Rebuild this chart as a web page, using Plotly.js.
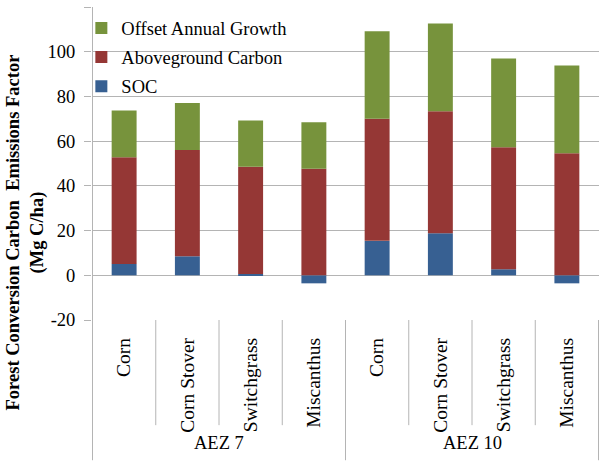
<!DOCTYPE html>
<html>
<head>
<meta charset="utf-8">
<script src="https://cdn.plot.ly/plotly-3.0.1.min.js"></script>
<style>
  html, body { margin: 0; padding: 0; background: #fff; }
  #plot { width: 600px; height: 461px; }
</style>
</head>
<body>
<div id="plot"></div>
<script>
// Categories (two levels) and the three stacked series
let zones = ["AEZ 7", "AEZ 7", "AEZ 7", "AEZ 7", "AEZ 10", "AEZ 10", "AEZ 10", "AEZ 10"];
let crops = ["Corn", "Corn Stover", "Switchgrass", "Miscanthus", "Corn", "Corn Stover", "Switchgrass", "Miscanthus"];
let soc = [5.1, 8.5, 0.6, -3.6, 15.4, 18.8, 2.7, -3.6];
let aboveground = [47.7, 47.5, 47.9, 47.6, 54.6, 54.6, 54.6, 54.6];
let offsetGrowth = [20.9, 21.1, 20.7, 20.9, 39.2, 39.2, 39.7, 39.2];
let yTicks = [-20, 0, 20, 40, 60, 80, 100, 120];

// unique keys so repeated crop names get their own slot
let keys = crops.map((c, i) => zones[i] + " " + c);
let groups = [...new Set(zones)];

let font = "Liberation Serif";
let gray = "#b4b4b4";

let trace1 = {
    x: keys, y: soc, name: "SOC", type: "bar",
    legendgroup: "a", legendrank: 3, marker: {color: "#376092"}
}
let trace2 = {
    x: keys, y: aboveground, name: "Aboveground Carbon", type: "bar",
    legendgroup: "b", legendrank: 2, marker: {color: "#953735"}
}
let trace3 = {
    x: keys, y: offsetGrowth, name: "Offset Annual Growth", type: "bar",
    legendgroup: "c", legendrank: 1, marker: {color: "#77933C"}
}

// divider lines in the category label area
let shapes = [];
let lineStyle = {color: gray, width: 1};
shapes.push({type: "line", xref: "x", yref: "paper", x0: -0.5, x1: -0.5, y0: 1, y1: -0.448, line: lineStyle});
for (let k = 0; k < keys.length; k++) {
    let groupEnd = (k === keys.length - 1) || zones[k] !== zones[k + 1];
    shapes.push({
        type: "line", xref: "x", yref: "paper",
        x0: k + 0.5, x1: k + 0.5, y0: 0, y1: groupEnd ? -0.448 : -0.336,
        line: lineStyle
    });
}

// group labels centered under their crops
let annotations = groups.map(g => {
    let idx = zones.map((z, i) => z === g ? i : -1).filter(i => i >= 0);
    return {
        text: g, xref: "x", yref: "paper",
        x: (idx[0] + idx[idx.length - 1]) / 2, y: -0.393,
        showarrow: false, yanchor: "middle",
        font: {family: font, size: 18.5, color: "#000"}
    };
});
annotations.push({
    text: "<b>Forest Conversion Carbon  Emissions Factor<br>(Mg C/ha)</b>",
    xref: "paper", yref: "paper", x: -0.132, y: 0.28,
    xanchor: "center", yanchor: "middle", textangle: -90,
    showarrow: false, font: {family: font, size: 18.5, color: "#000"}
});

let layout = {
    barmode: "relative",
    bargap: 0.606,
    width: 600, height: 461,
    margin: {l: 92, r: 1, t: 7, b: 141},
    paper_bgcolor: "#fff", plot_bgcolor: "#fff",
    font: {family: font, size: 18, color: "#000"},
    showlegend: true,
    legend: {
        x: -0.021, y: 0.992, xanchor: "left", yanchor: "top",
        traceorder: "grouped", tracegroupgap: 2,
        bgcolor: "rgba(0,0,0,0)",
        font: {family: font, size: 18.5, color: "#000"}
    },
    xaxis: {
        type: "category",
        tickvals: keys, ticktext: crops,
        tickangle: -90, ticks: "", showgrid: false, showline: false,
        zeroline: false, ticklabelstandoff: 13,
        tickfont: {family: font, size: 19.5, color: "#000"}
    },
    yaxis: {
        range: [-20, 120],
        tickvals: yTicks, ticktext: yTicks.map(String),
        showgrid: true, gridcolor: gray, gridwidth: 1,
        zeroline: true, zerolinecolor: gray, zerolinewidth: 1,
        showline: false, ticks: "outside", ticklen: 7, tickcolor: gray,
        ticklabelstandoff: 5,
        tickfont: {family: font, size: 18.5, color: "#000"}
    },
    shapes: shapes,
    annotations: annotations
}

Plotly.newPlot("plot", [trace1, trace2, trace3], layout, {displayModeBar: false});
</script>
</body>
</html>
